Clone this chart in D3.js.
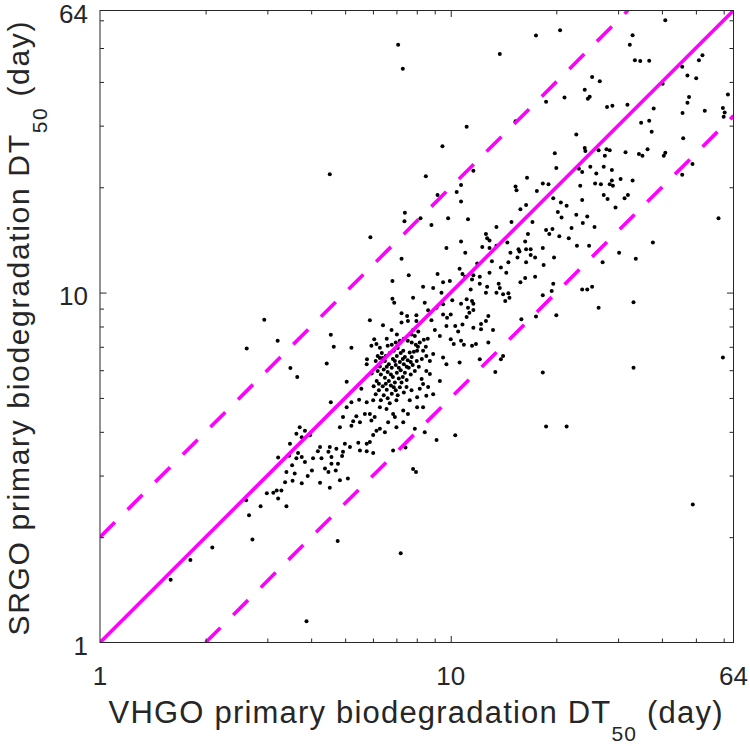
<!DOCTYPE html>
<html><head><meta charset="utf-8">
<script src="https://cdn.jsdelivr.net/npm/d3@7"></script>
<style>body{margin:0;background:#fff}svg{display:block}</style>
</head><body><svg id="c" width="750" height="746"></svg>
<script>
// axis settings (DT50, days, log scale)
const axisDomain = [1, 64];
const tickLabels = [1, 10, 64];
const minorTicks = [2,3,4,5,6,7,8,9,20,30,40,50,60];
const majorTicks = [10];
// reference lines: SRGO = ratio * VHGO
const refRatios = [1, 2, 0.5];

// [VHGO DT50, SRGO DT50] pairs
const upperRight = [
[40.9,60.0],[20.5,56.2],[17.5,54.3],[33.0,54.4],[32.4,51.1],[13.8,48.1],[33.5,46.1],[34.7,45.9],[36.8,46.0],[52.2,47.7],
[51.0,46.1],[45.7,44.2],[25.3,41.3],[26.6,40.2],[47.3,41.7],[50.1,41.0],[40.2,39.5],[24.1,38.0],[21.1,36.1],[24.9,36.3],
[24.6,35.8],[18.7,35.1],[61.7,36.8],[47.8,36.2],[47.3,34.9],[27.9,33.9],[28.9,34.2],[31.9,34.4],[37.9,33.6],[53.0,33.1],
[59.7,33.7],[60.4,32.7],[60.0,31.8],[45.8,32.6],[15.3,30.9],[34.9,30.6],[36.8,31.0],[37.4,28.8],[22.8,28.3],[46.0,27.6],
[24.1,25.9],[24.2,25.4],[26.4,25.5],[27.8,25.7],[28.4,25.5],[27.5,24.6],[31.5,25.2],[36.4,25.7],[34.4,24.9],[35.2,24.6],
[40.9,25.1],[40.5,24.6],[19.8,25.0],[20.0,22.7],[23.2,22.6],[23.7,22.1],[25.0,22.9],[26.0,21.9],[27.3,22.9],[28.8,22.4],
[30.5,21.1],[28.8,20.9],[29.0,20.2],[33.0,20.9],[48.9,23.3],[45.7,21.7],[16.5,21.3],[15.3,20.1],[15.4,19.6],[18.3,20.5],
[19.0,20.4],[17.6,19.5],[23.4,20.2],[25.8,20.5],[26.8,20.4],[28.4,20.4],[27.3,19.0],[28.0,18.5],[32.0,19.0],[31.3,18.6],
[19.6,18.6],[23.7,18.4],[16.4,17.8],[15.8,17.3],[20.6,18.1],[21.4,17.7],[29.5,17.5],[20.2,17.0],[20.7,16.4],[14.9,15.9],
[17.1,15.9],[22.8,16.7],[24.5,16.5],[23.8,15.8],[22.1,15.3],[25.7,15.4],[18.7,15.1],[19.5,15.2],[19.1,14.7],[16.6,14.7],
[20.4,14.5],[21.7,14.3],[58.0,16.3],[14.5,13.9],[16.3,14.0],[37.7,13.9],[22.9,13.6],[24.8,13.6],[15.6,13.3],[16.4,13.3],
[16.9,13.3],[18.3,13.4]
];
const upperMid = [
[11.1,29.8],[9.47,26.2],[11.6,22.3],[8.49,21.5],[10.7,20.3],[10.4,19.4],[9.17,19.0],[10.7,18.2],[7.40,16.9],[7.38,16.0],
[8.20,16.3],[9.83,16.3],[11.2,16.2],[8.81,15.6],[13.5,15.4],[12.6,14.7],[12.7,14.3],[12.9,14.1],[13.5,13.6],[12.9,13.4],
[12.3,13.5],[10.7,14.0],[9.72,13.4],[11.0,13.0],[33.7,12.5],[30.2,13.0],[27.1,12.2],[7.24,12.5],[9.17,11.3],[10.6,11.7],
[10.8,11.3],[11.0,11.1],[11.6,11.2],[12.1,11.1],[11.9,12.1],[12.9,11.4],[13.1,12.3],[13.9,11.8],[14.6,12.2],[14.4,11.4],
[14.8,13.0],[15.7,13.1],[15.5,12.6],[16.9,12.8],[16.4,12.2],[17.4,12.6],[18.4,12.0],[19.7,12.6],[15.8,10.7],[16.3,11.0],
[17.4,11.1],[19.6,10.6],[23.7,10.2],[24.5,10.2],[25.3,10.4],[18.3,9.82],[19.4,10.1],[26.4,9.05],[33.2,9.38],[20.0,8.62],
[17.5,8.55],[15.9,8.39],[13.7,10.6],[13.8,10.3],[13.5,9.99],[14.1,9.89],[14.6,9.95],[14.7,9.67],[14.3,9.46],[12.7,10.4],
[12.6,9.99],[12.1,10.6],[11.5,10.9],[11.4,10.2],[11.5,9.46],[11.1,9.57],[11.2,9.05],[11.3,8.76],[10.7,9.29],[9.94,10.8],
[10.1,9.51],[10.0,8.66],[9.51,10.7],[9.41,9.99],[9.51,9.26],[9.51,8.66],[8.91,10.3],[9.11,9.05],[8.81,8.34],[8.34,10.4],
[8.43,9.35],[8.62,8.90],[7.81,9.67],[7.98,8.61],[7.98,8.30]
];
const middle = [
[7.59,11.2],[6.82,10.8],[6.82,9.61],[6.90,9.35],[7.24,8.73],[5.88,8.34],[2.94,8.37],[3.21,7.28],[2.62,6.92],[4.55,7.58],
[4.64,7.00],[5.21,6.96],[4.43,6.27],[3.49,6.09],[3.65,5.74],[5.77,6.45],[6.05,7.36],[6.14,7.13],[5.05,5.56],[4.55,4.86],
[5.21,4.86],[5.05,4.70],[5.76,4.86],[5.38,4.43],[5.27,4.29],[5.51,4.26],[5.88,4.50],[5.94,4.31],[6.14,4.03],[6.01,3.92],
[4.83,4.12],[4.93,4.41],[6.63,4.26],[6.85,4.50],[6.56,4.65],[7.32,4.60],[7.55,4.50],[8.02,4.70],[7.32,4.26],[7.00,4.12],
[8.34,4.70],[8.52,5.07],[8.26,5.66],[8.02,5.02],[3.71,4.12],[3.63,3.95],[3.84,4.03],[3.76,3.86],[3.97,3.91],[3.48,3.70],
[5.76,3.70],[4.52,3.62],[4.72,3.58],[4.99,3.70],[5.16,3.62],[4.24,3.62],[5.45,3.72],[6.49,3.99],
[7.51,8.57],[6.41,8.06],[6.78,7.82],[7.24,8.22],[7.55,8.30],[7.81,7.82],[7.73,7.59],[7.90,7.51],[8.08,7.74],[9.76,8.47],
[11.6,9.29],[11.6,8.92],[11.1,8.51],[12.6,8.30],[12.8,8.57],[9.72,8.02],[10.3,8.02],[10.5,7.74],[10.8,8.11],[11.6,7.93],
[12.2,8.13],[13.2,7.82],[9.01,7.82],[9.31,7.51],[10.0,7.36],[10.2,7.13],[10.7,7.28],[10.9,7.10],[11.5,7.05],[11.8,7.13],
[12.8,7.20],[5.94,7.05],[6.28,6.96],[7.32,6.82],[7.64,6.74],[8.02,6.82],[8.34,6.82],[8.52,6.59],[8.72,6.37],[8.91,6.68],
[9.51,6.52],[9.72,6.24],[10.6,6.31],[5.76,6.24],[5.56,5.31],[8.34,5.48],[8.62,5.37],[8.16,5.31],[7.24,5.53],[7.48,5.37],
[7.73,5.26],[7.00,4.92],[7.64,4.92],[6.01,4.92],[6.28,4.70],[5.48,4.94],[5.21,4.16],[5.69,4.50],[6.07,4.41],[6.93,4.41],
[6.28,4.08],[5.88,3.74],[5.51,3.54],[6.01,3.48],[4.93,3.51],[4.57,3.39],[4.77,3.24],[7.90,4.08],[8.43,3.99],[9.11,3.79],
[10.3,3.91],[6.85,3.54],[7.81,3.13],[8.52,5.97],[8.72,5.85],[9.31,5.59],[8.91,5.12]
];
const core = [
[6.36,6.72],[6.53,6.59],[6.70,6.72],[6.88,6.82],[7.06,6.95],[6.49,6.37],[6.66,6.24],[6.84,6.46],[7.02,6.59],[7.20,6.72],
[7.40,6.54],[6.28,6.15],[6.44,6.03],[6.61,5.93],[6.79,6.10],[6.97,6.21],[7.16,6.33],[7.35,6.24],[7.54,6.41],[7.74,6.54],
[6.32,5.83],[6.49,5.71],[6.66,5.59],[6.84,5.74],[7.02,5.90],[7.20,6.00],[7.40,5.90],[7.59,6.10],[7.79,6.21],[8.00,6.37],
[6.40,5.40],[6.57,5.28],[6.75,5.43],[6.93,5.53],[7.11,5.68],[7.30,5.74],[7.49,5.63],[7.69,5.83],[7.90,5.97],[8.11,6.14],
[6.15,5.59],[6.24,5.26],[6.44,5.09],[6.61,4.99],[6.79,5.14],[6.97,5.26],[7.16,5.36],[7.35,5.18],[6.03,5.40],[6.19,5.97],
[6.11,6.37],[6.28,6.50],[8.16,7.20],[8.38,7.33],[7.95,7.10],[7.74,7.20],[7.54,7.28],[7.35,7.38],[7.16,7.28],[6.97,7.20],
[6.79,7.10],[6.61,7.05],[8.49,7.00],[8.27,6.46],[8.60,7.38],
[6.40,6.50],[6.57,6.14],[6.75,5.83],[6.93,6.37],[7.11,6.10],[7.30,6.46],[7.49,6.14],[7.69,6.33],[6.24,5.49],[6.53,5.49],
[6.88,5.36],[7.06,5.09],[6.11,5.12],[6.32,4.92],[6.70,4.83],[5.95,5.87],[7.85,6.77],[8.06,7.00],[7.02,7.59],[6.57,7.38],
[6.19,6.59]
];
const lowerBand = [
[12.2,7.86],[12.1,6.45],[13.9,6.45],[14.1,6.59],[13.4,5.93],[59.7,6.52],[33.2,6.10],[18.3,5.91],[18.7,4.14],[21.4,4.14],
[49.0,2.48],[5.76,3.52],[4.90,3.41],[5.09,2.94],[4.83,2.91],[7.43,3.61],[7.96,3.07],[7.20,1.80],
[3.67,3.48],[3.63,3.36],[3.53,3.21],[3.76,3.39],[3.22,3.38],[3.84,3.28],[3.40,3.07],[3.59,3.04],[3.37,2.87],[3.29,2.72],
[3.54,2.90],[3.76,2.85],[4.05,3.36],[4.28,3.36],[4.02,3.10],[4.24,2.86],[4.48,3.51],[4.57,3.24],[4.48,3.07],[4.52,2.77],
[3.19,2.72],[3.12,2.68],[2.99,2.67],[3.22,2.58],[3.40,2.45],[2.87,2.45],[2.66,2.31],[2.61,2.55],[2.72,1.97],[2.09,1.87],
[1.81,1.72],[1.59,1.51],[4.76,1.95],[3.88,1.15],
[4.18,3.52],[4.38,3.14],[3.91,2.99],[4.70,3.10],[3.46,3.42]
];
const upperLeft = [[4.52,21.8],[5.90,14.4],[7.08,51.1],[7.30,43.6]];

const allPoints = [].concat(upperRight, upperMid, middle, core, lowerBand, upperLeft);

const svg = d3.select("#c");
const L = 100, R = 733.5, T = 10.5, B = 642.5;
const axisColor = "#262626";
const font = "'Liberation Sans', Arial, Helvetica, sans-serif";
const x = d3.scaleLog().domain(axisDomain).range([L, R]);
const y = d3.scaleLog().domain(axisDomain).range([B, T]);

svg.append("defs").append("clipPath").attr("id","clip")
  .append("rect").attr("x",L).attr("y",T).attr("width",R-L).attr("height",B-T);

// points
svg.append("g").selectAll("circle").data(allPoints).join("circle")
  .attr("cx", d => x(d[0])).attr("cy", d => y(d[1])).attr("r", 2).attr("fill", "#000");

// reference lines
const line = d3.line().x(d => x(d[0])).y(d => y(d[1]));
const lg = svg.append("g").attr("clip-path","url(#clip)");
refRatios.forEach(r => {
  const x0 = Math.max(axisDomain[0], axisDomain[0] / r);
  const x1 = Math.min(axisDomain[1], axisDomain[1] / r);
  lg.append("path").datum([[x0, x0*r],[x1, x1*r]]).attr("d", line)
    .attr("fill","none").attr("stroke","#ff00ff").attr("stroke-width",3.6)
    .attr("stroke-dasharray", r === 1 ? null : "21,18");
});

// axes ticks (inward)
function addAxis(gen, tx, ty, vals, size) {
  const g = svg.append("g").attr("transform", `translate(${tx},${ty})`)
    .call(gen.tickValues(vals).tickSize(-size).tickFormat(""));
  g.select(".domain").remove();
  g.selectAll("line").attr("stroke", axisColor).attr("stroke-width", 1);
}
[[minorTicks,4],[majorTicks,6.5]].forEach(([vals,s]) => {
  addAxis(d3.axisBottom(x), 0, B, vals, s);
  addAxis(d3.axisTop(x), 0, T, vals, s);
  addAxis(d3.axisLeft(y), L, 0, vals, s);
  addAxis(d3.axisRight(y), R, 0, vals, s);
});
svg.append("rect").attr("x",L).attr("y",T).attr("width",R-L).attr("height",B-T)
  .attr("fill","none").attr("stroke",axisColor).attr("stroke-width",1);

// tick labels
svg.append("g").selectAll("text").data(tickLabels).join("text")
  .attr("x", d => x(d)).attr("y", 685).attr("text-anchor","middle")
  .style("font-family",font).style("font-size","26px").attr("fill",axisColor).text(d => d);
svg.append("g").selectAll("text").data(tickLabels).join("text")
  .attr("x", 88).attr("y", d => y(d) + 12.5).attr("text-anchor","end")
  .style("font-family",font).style("font-size","26px").attr("fill",axisColor).text(d => d);

// axis titles
function title(g, main, size) {
  const t = g.append("text").attr("text-anchor","middle")
    .style("font-family",font).style("font-size",size + "px").attr("fill",axisColor)
    .attr("textLength", 614).attr("lengthAdjust","spacing");
  t.append("tspan").text(main + " primary biodegradation DT");
  t.append("tspan").attr("dy", 18).style("font-size","21px").text("50");
  t.append("tspan").attr("dy", -18).text(" (day)");
}
title(svg.append("g").attr("transform","translate(415.5,722.5)"), "VHGO", 31);
title(svg.append("g").attr("transform","translate(29,328.5) rotate(-90)"), "SRGO", 30);
</script></body></html>
